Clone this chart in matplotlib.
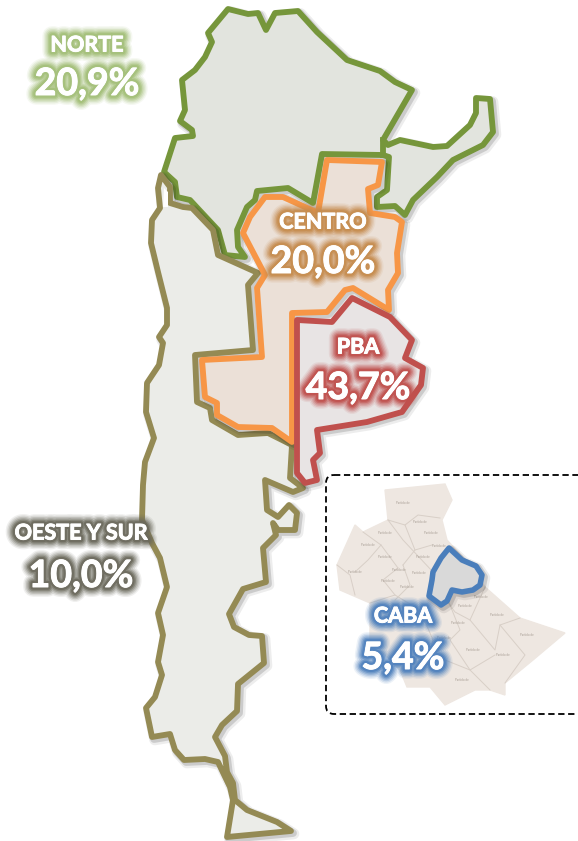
import matplotlib
matplotlib.use('Agg')
import matplotlib.pyplot as plt
import matplotlib.patheffects as pe
from matplotlib.patches import Polygon, FancyBboxPatch

plt.rcParams['font.family'] = ['Lato', 'DejaVu Sans']

# outlines, in pixels
norte = [(228,9),(248,14),(258,13),(266,30),(275,13),(298,11),(317,32),(347,60),(380,71),(395,82),(412,90),
         (383,140),(388,145),(400,140),(433,147),(447,146),(470,125),(476,113),(476,98),(490,99),(493,132),
         (483,145),(453,160),(437,177),(413,200),(405,215),(395,206),(377,207),(377,197),(387,190),(389,157),
         (383,155),(322,154),(313,203),(288,188),(257,191),(255,200),(247,207),(237,230),(238,247),(245,257),
         (225,255),(218,230),(190,200),(177,197),(175,182),(164,172),(175,138),(193,136),(192,130),(180,121),
         (185,110),(182,80),(195,70),(205,57),(212,42),(208,33)]
norte_linea = [(383,140),(383,155)]
oeste = [(161,175),(170,187),(170,203),(183,207),(192,208),(213,230),(218,255),(258,273),(248,285),(253,350),
         (195,355),(197,402),(210,408),(212,420),(238,435),(268,433),(292,445),(290,478),(303,488),(293,492),
         (265,480),(267,510),(278,517),(289,505),(297,513),(295,530),(278,530),(273,523),(276,535),(263,548),
         (266,582),(243,589),(229,614),(234,627),(249,635),(262,636),(264,663),(238,684),(237,711),(222,725),
         (215,737),(225,756),(227,772),(233,783),(235,800),(247,810),(277,822),(291,831),(227,837),(233,800),
         (230,787),(218,762),(205,759),(184,760),(175,750),(170,734),(152,737),(146,708),(155,697),(162,675),
         (158,662),(163,635),(158,613),(167,587),(160,558),(152,543),(142,520),(143,485),(145,462),(154,438),
         (146,412),(147,383),(159,365),(163,343),(159,337),(167,325),(167,308),(158,272),(151,243),(152,220),
         (160,208),(158,188)]
oeste_cuna = [(164,188),(168,192),(168,207),(163,207)]
centro = [(327,160),(382,162),(378,185),(368,189),(370,213),(395,217),(402,222),(397,253),(398,273),(388,290),
          (389,310),(353,288),(345,290),(327,312),(292,313),(292,442),(272,428),(238,427),(217,415),(217,403),
          (205,397),(202,360),(262,357),(257,288),(265,275),(243,233),(250,217),(265,197),(283,197),(318,213)]
pba = [(297,320),(332,322),(352,298),(390,317),(412,340),(405,358),(423,368),(421,385),(402,412),(367,422),
       (317,430),(320,453),(313,460),(317,480),(305,483),(297,473)]
caba = [(449,548),(462,560),(476,566),(482,575),(480,585),(473,590),(462,592),(452,590),(447,601),(441,605),
        (429,596),(432,580),(433,572),(441,558)]
gba = [(385,490),(445,484),(452,500),(442,520),(447,540),(470,565),(485,587),(520,618),(565,633),(533,660),
       (505,683),(505,695),(490,690),(475,690),(445,705),(430,687),(407,687),(400,670),(370,640),(370,603),
       (340,590),(337,565),(355,525),(363,532),(388,520)]
gba_lineas = [[(388,520),(403,540),(433,572)], [(363,532),(381,545),(398,568)], [(381,545),(368,560),(355,572)],
              [(337,565),(350,575),(355,595)], [(388,520),(405,525),(418,515),(440,518)], [(405,525),(415,550),(403,565)],
              [(415,550),(432,545)], [(398,568),(383,580),(395,595)], [(403,565),(410,585),(395,600)],
              [(370,603),(395,595),(420,610)], [(448,600),(460,630),(450,640),(470,670),(495,655)],
              [(485,587),(470,620),(495,650),(500,625),(520,618)], [(500,625),(525,655),(505,683)],
              [(420,610),(433,640),(425,665),(445,660),(470,670),(490,690)], [(447,601),(455,612),(470,620)]]
partidos_x = [403,420,431,439,423,385,368,385,355,399,388,407,419,481,465,497,458,444,473,527,503,462]
partidos_y = [503,522,533,546,557,533,545,557,572,570,581,587,573,597,606,615,623,638,650,635,655,680]

etiquetas = ['NORTE', 'CENTRO', 'PBA', 'OESTE Y SUR', 'CABA']
valores = ['20,9%', '20,0%', '43,7%', '10,0%', '5,4%']
etiqueta_xy = [(87,45), (323,222), (358,347), (81,533), (403,616)]
valor_xy = [(87,84), (323,262), (358,388), (81,576), (403,658)]
brillos = ['#a3bf78', '#c68c4e', '#c0504d', '#6b695c', '#4f81bd']

fig = plt.figure(figsize=(5.78, 8.41), dpi=100)
ax = fig.add_axes([0, 0, 1, 1])
ax.set_xlim(0, 578)
ax.set_ylim(841, 0)
ax.axis('off')

sombra = [pe.SimpleLineShadow(offset=(2, -2), shadow_color='k', alpha=0.07, linewidth=8),
          pe.SimpleLineShadow(offset=(1.5, -1.5), shadow_color='k', alpha=0.14, linewidth=5.5),
          pe.Normal()]

def region(puntos, relleno, borde, z, ancho=4.2):
    p = Polygon(puntos, closed=True, facecolor=relleno, edgecolor=borde, linewidth=ancho,
                joinstyle='round', zorder=z, path_effects=sombra)
    ax.add_patch(p)

region(norte, '#e2e4de', '#76963b', 2)
ax.plot(*zip(*norte_linea), color='#76963b', lw=4.2, zorder=2)
region(oeste, '#ebecE8', '#948a54', 3)
ax.add_patch(Polygon(oeste_cuna, closed=True, facecolor='white', edgecolor='none', zorder=3.1))
region(centro, '#ebe0d7', '#f79646', 4)
region(pba, '#e8e4e4', '#c0504d', 5)

# recuadro CABA
ax.add_patch(FancyBboxPatch((326, 475), 270, 239, boxstyle='round,pad=0,rounding_size=8', facecolor='white',
                            edgecolor='black', linewidth=1.3, linestyle=(0, (3.5, 2)), zorder=6))
ax.add_patch(Polygon(gba, closed=True, facecolor='#eee7e1', edgecolor='#eee7e1', linewidth=1, zorder=7))
for linea in gba_lineas:
    ax.plot(*zip(*linea), color='#d8cfc7', lw=0.7, zorder=7.1)
for px, py in zip(partidos_x, partidos_y):
    ax.text(px, py, 'Partido de', fontsize=2.2, color='#a89e95', ha='center', va='center', zorder=7.2)
region(caba, '#d9d9d9', '#4a7ebb', 8, ancho=4)

def brillo(color):
    capas = [pe.withStroke(linewidth=w, foreground=color, alpha=a) for w, a in
             [(14, 0.10), (12, 0.16), (10, 0.22), (8, 0.32), (6, 0.5), (4, 0.8)]]
    return capas + [pe.withStroke(linewidth=0.7, foreground='white')]

for i in range(len(etiquetas)):
    ax.text(etiqueta_xy[i][0], etiqueta_xy[i][1], etiquetas[i], fontsize=15.5, fontweight='bold', color='white',
            ha='center', va='center', zorder=10, path_effects=brillo(brillos[i]))
    ax.text(valor_xy[i][0], valor_xy[i][1], valores[i], fontsize=27, fontweight='bold', color='white',
            ha='center', va='center', zorder=10, path_effects=brillo(brillos[i]))

fig.savefig('out.png', dpi=100)
